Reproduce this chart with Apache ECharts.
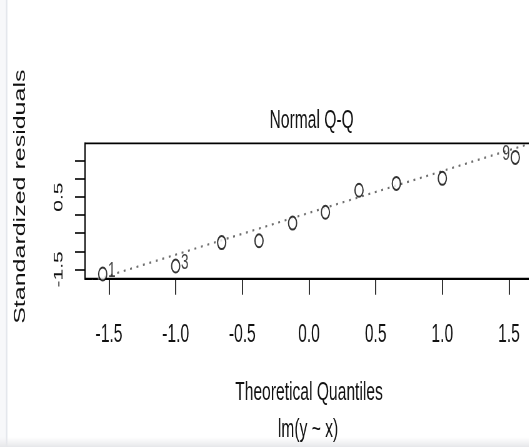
<!DOCTYPE html>
<html>
<head>
<meta charset="utf-8">
<script src="https://cdn.jsdelivr.net/npm/echarts@6/dist/echarts.min.js"></script>
<style>
  html, body { margin: 0; padding: 0; background: #fff; overflow: hidden; }
  /* the reference is an R plot squeezed horizontally, so draw wide and squeeze */
  #qq { width: 860px; height: 447px; transform: scaleX(0.625); transform-origin: 0 0; }
</style>
</head>
<body>
<div id="qq"></div>
<script>
// theoretical quantiles (qnorm(ppoints(10)))
var theoQ = [-1.547, -1.0, -0.655, -0.375, -0.123, 0.123, 0.375, 0.655, 1.0, 1.547];
// standardized residuals
var stdRes = [-1.63, -1.41, -0.76, -0.71, -0.22, 0.08, 0.69, 0.88, 1.02, 1.60];
// labelled observations (most extreme residuals)
var obsId = ['1', '3', '', '', '', '', '', '', '', '9'];
// qqline
var qqIntercept = 0.063;
var qqSlope = 1.158;

var xMin = -1.68, xMax = 1.68;
var yMin = -1.76, yMax = 1.99;
var xTicks = [-1.5, -1.0, -0.5, 0.0, 0.5, 1.0, 1.5];
var yTicks = [-1.5, -1.0, -0.5, 0.0, 0.5, 1.0, 1.5];
var yTickLabels = [-1.5, 0.5];

var FONT = '"Liberation Sans", Arial, sans-serif';
var INK = '#111';

var points = theoQ.map(function (q, i) {
  return {
    value: [q, stdRes[i]],
    label: {
      show: obsId[i] !== '',
      formatter: obsId[i],
      position: q < 0 ? 'right' : 'left',
      distance: 1,
      offset: [0, -3]
    }
  };
});

var lineData = [
  [xMin, qqIntercept + qqSlope * xMin],
  [xMax, qqIntercept + qqSlope * xMax]
];

var chart = echarts.init(document.getElementById('qq'));
chart.setOption({
  animation: false,
  textStyle: { fontFamily: FONT },
  title: {
    text: 'Normal Q-Q',
    left: 493.6,
    top: 104,
    textAlign: 'center',
    textStyle: { fontFamily: FONT, fontSize: 25, fontWeight: 'normal', color: INK }
  },
  grid: {
    left: 136, right: 7.2, top: 143.3, bottom: 168.3,
    show: true, borderColor: '#000', borderWidth: 1.8, backgroundColor: 'transparent'
  },
  xAxis: {
    type: 'value',
    min: xMin, max: xMax,
    name: 'Theoretical Quantiles',
    nameLocation: 'middle',
    nameGap: 102,
    nameTextStyle: { fontFamily: FONT, fontSize: 25, color: INK },
    axisLine: { show: true, onZero: false, lineStyle: { color: '#000', width: 1.8 } },
    axisTick: { show: true, customValues: xTicks, length: 16, lineStyle: { color: '#000', width: 1.6 } },
    axisLabel: {
      customValues: xTicks, margin: 44,
      fontFamily: FONT, fontSize: 25, color: INK,
      formatter: function (v) { return v.toFixed(1); }
    },
    splitLine: { show: false }
  },
  yAxis: {
    type: 'value',
    min: yMin, max: yMax,
    axisLine: { show: true, onZero: false, lineStyle: { color: '#000', width: 1.8 } },
    axisTick: { show: true, customValues: yTicks, length: 16, lineStyle: { color: '#000', width: 1.6 } },
    axisLabel: {
      customValues: yTickLabels, rotate: 90, margin: 31,
      fontFamily: FONT, fontSize: 21, color: INK,
      formatter: function (v) { return v.toFixed(1); }
    },
    splitLine: { show: false }
  },
  graphic: [
    { type: 'rect', shape: { x: 0, y: 0, width: 10, height: 447 }, style: { fill: '#f7f8fa' }, silent: true },
    { type: 'rect', shape: { x: 9.5, y: 0, width: 2.4, height: 447 }, style: { fill: '#e3e6ec' }, silent: true },
    {
      type: 'rect', shape: { x: 0, y: 437, width: 860, height: 10 }, silent: true,
      style: { fill: new echarts.graphic.LinearGradient(0, 0, 0, 1, [
        { offset: 0, color: 'rgba(235,235,238,0)' }, { offset: 1, color: '#e6e7ea' }]) }
    },
    {
      type: 'text', x: 33.6, y: 196.7, rotation: Math.PI / 2, silent: true,
      style: { text: 'Standardized residuals', fontFamily: FONT, fontSize: 25, fill: INK,
        textAlign: 'center', textVerticalAlign: 'middle' }
    },
    {
      type: 'text', x: 492.8, y: 430, silent: true,
      style: { text: 'lm(y ~ x)', fontFamily: FONT, fontSize: 25, fill: INK,
        textAlign: 'center', textVerticalAlign: 'middle' }
    }
  ],
  series: [
    {
      type: 'line',
      data: lineData,
      symbol: 'none',
      clip: true,
      lineStyle: { color: '#6e6e6e', width: 2.2, type: [3, 7.5] },
      z: 2
    },
    {
      type: 'scatter',
      data: points,
      symbol: 'emptyCircle',
      symbolSize: 13,
      clip: true,
      itemStyle: { color: '#000', borderColor: '#000', borderWidth: 1.9 },
      label: { fontFamily: FONT, fontSize: 22, color: INK },
      z: 3
    }
  ]
});
</script>
</body>
</html>
